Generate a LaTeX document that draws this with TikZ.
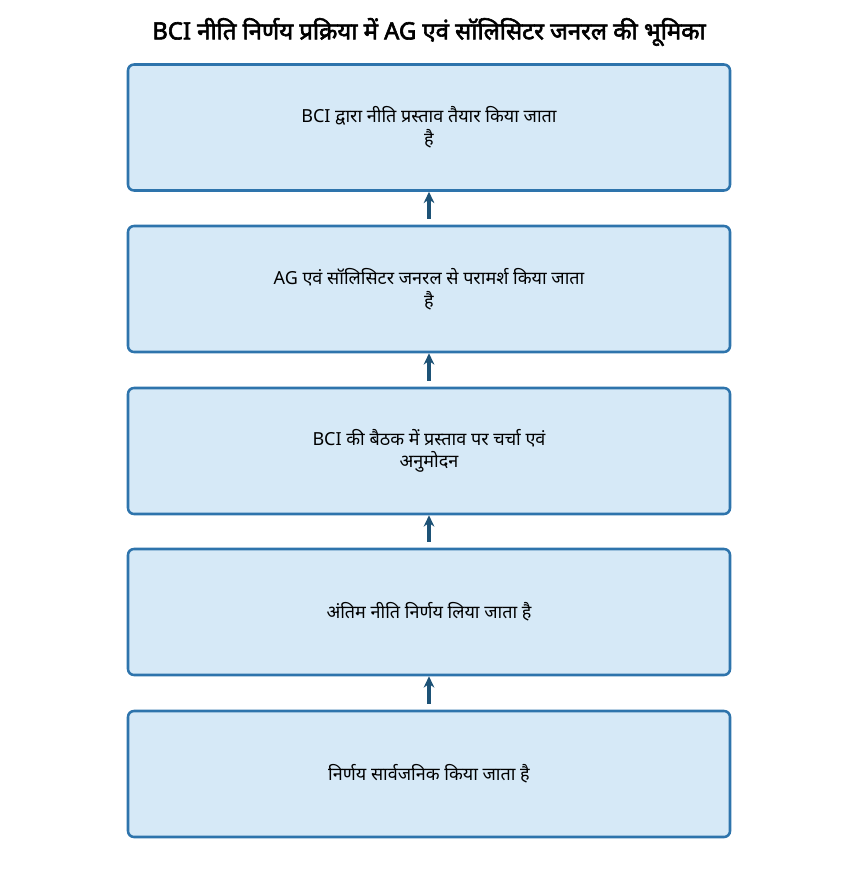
\documentclass[tikz,border=0pt]{standalone}
\usepackage{fontspec}
\setmainfont[Script=Devanagari, AutoFakeBold=2.5]{Noto Sans}
\usepackage{xcolor}
\usepackage{tikz}
\usetikzlibrary{arrows.meta, positioning}

\definecolor{boxfill}{HTML}{D6E9F7}
\definecolor{boxline}{HTML}{2E74AC}
\definecolor{arrowcol}{HTML}{1D5276}

\tikzset{
  stepbox/.style={draw=boxline, fill=boxfill, line width=1.9pt, rounded corners=4.5pt,
    minimum width=451.5pt, minimum height=94.5pt, align=center, font=\fontsize{13.5}{17}\selectfont},
  flowarrow/.style={-{Stealth[length=8.5pt, width=8pt]}, line width=2.5pt, draw=arrowcol, shorten <=4.5pt}
}

\begin{document}
\begin{tikzpicture}[x=0.75pt, y=-0.75pt]
  \useasboundingbox (0,0) rectangle (858,877);

  \node[font=\fontsize{17.9}{21}\selectfont\bfseries] (title) at (429,32) {BCI नीति निर्णय प्रक्रिया में AG एवं सॉलिसिटर जनरल की भूमिका};

  \node[stepbox] (b1) at (429,127.5) {BCI द्वारा नीति प्रस्ताव तैयार किया जाता\\है};
  \node[stepbox] (b2) at (429,289) {AG एवं सॉलिसिटर जनरल से परामर्श किया जाता\\है};
  \node[stepbox] (b3) at (429,451) {BCI की बैठक में प्रस्ताव पर चर्चा एवं\\अनुमोदन};
  \node[stepbox] (b4) at (429,612) {अंतिम नीति निर्णय लिया जाता है};
  \node[stepbox] (b5) at (429,774) {निर्णय सार्वजनिक किया जाता है};

  \draw[flowarrow] (b2.north) -- (b1.south);
  \draw[flowarrow] (b3.north) -- (b2.south);
  \draw[flowarrow] (b4.north) -- (b3.south);
  \draw[flowarrow] (b5.north) -- (b4.south);

\end{tikzpicture}
\end{document}
